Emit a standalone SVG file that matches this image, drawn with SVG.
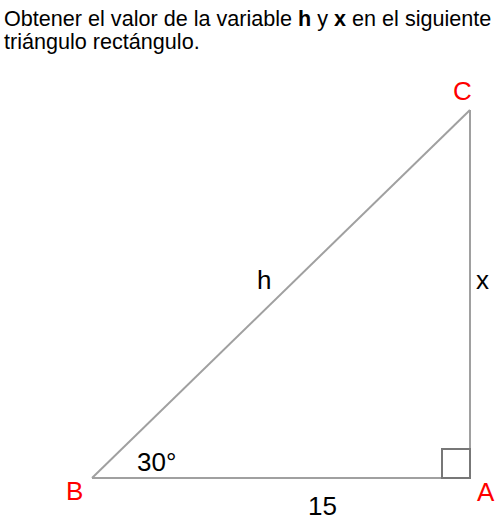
<svg xmlns="http://www.w3.org/2000/svg" width="500" height="523" viewBox="0 0 500 523">
<style>
.t{font-family:"Liberation Sans",Arial,sans-serif;font-size:21.6px;fill:#000}
.lbl{font-family:"Liberation Sans",Arial,sans-serif;font-size:26px;fill:#000}
.v{font-family:"Liberation Sans",Arial,sans-serif;font-size:26px;fill:#ff0000}
.side{stroke:#a0a0a0;stroke-width:2;fill:none}
</style>
<rect width="500" height="523" fill="#fff"/>
<text class="t" x="4" y="26">Obtener el valor de la variable <tspan font-weight="bold">h</tspan> y <tspan font-weight="bold">x</tspan> en el siguiente</text>
<text class="t" x="4" y="49">triángulo rectángulo.</text>
<g id="connectors">
<line class="side" x1="92" y1="478" x2="470" y2="478"/>
<line class="side" x1="470" y1="478" x2="470" y2="110"/>
<line class="side" x1="92" y1="478" x2="470" y2="110"/>
</g>
<g id="right-angle"><rect x="442" y="449" width="28" height="29" fill="none" stroke="#777" stroke-width="2"/></g>
<g id="B"><text class="v" x="66" y="500">B</text></g>
<g id="A"><text class="v" x="477" y="501">A</text></g>
<g id="C"><text class="v" x="453" y="100">C</text></g>
<g id="h"><text class="lbl" x="257" y="289">h</text></g>
<g id="x"><text class="lbl" x="476" y="289">x</text></g>
<g id="angle"><text class="lbl" x="137" y="471">30°</text></g>
<g id="base"><text class="lbl" x="308" y="515">15</text></g>
</svg>
